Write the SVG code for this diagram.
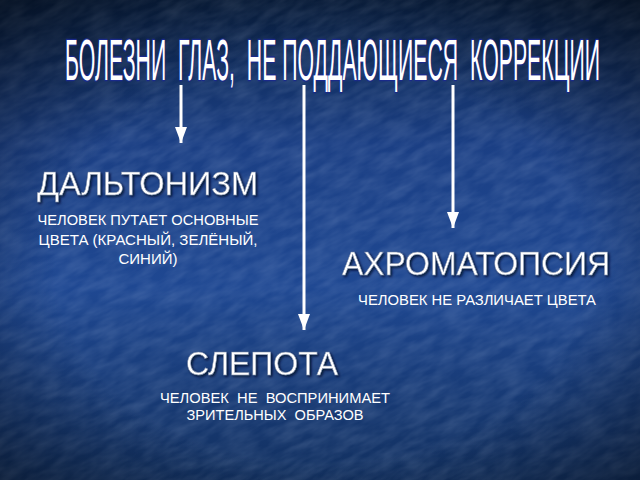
<svg xmlns="http://www.w3.org/2000/svg" width="640" height="480" viewBox="0 0 640 480">
<defs>
<linearGradient id="bg" x1="0" y1="0" x2="0" y2="1">
<stop offset="0" stop-color="#0a2246"/>
<stop offset="0.3" stop-color="#1b3f84"/>
<stop offset="0.6" stop-color="#1f4892"/>
<stop offset="1" stop-color="#12305f"/>
</linearGradient>
<radialGradient id="vig" cx="0.5" cy="0.55" r="0.75">
<stop offset="0.55" stop-color="#000" stop-opacity="0"/>
<stop offset="1" stop-color="#000" stop-opacity="0.5"/>
</radialGradient>
<filter id="tex" x="0" y="0" width="100%" height="100%">
<feTurbulence type="fractalNoise" baseFrequency="0.04 0.12" numOctaves="3" seed="4" result="n"/>
<feColorMatrix in="n" type="matrix" values="0 0 0 0 0.7  0 0 0 0 0.8  0 0 0 0 1  0 0 0 0.22 -0.06"/>
</filter>
<marker id="ah" viewBox="0 0 16 12" refX="16" refY="6" markerWidth="16" markerHeight="12" markerUnits="userSpaceOnUse" orient="auto">
<path d="M0,0 L16,6 L0,12 Z" fill="#ffffff"/>
</marker>
<filter id="sh" x="-10%" y="-30%" width="120%" height="160%">
<feDropShadow dx="1.5" dy="1.5" stdDeviation="1" flood-color="#050f25" flood-opacity="0.9"/>
</filter>
</defs>
<style>
.big{font-family:"Liberation Sans",Arial,sans-serif;fill:#ffffff;stroke:#7080a0;stroke-width:0.5;filter:url(#sh)}
.small{font-family:"Liberation Sans",Arial,sans-serif;fill:#ffffff;font-size:14.5px;text-anchor:middle}
.conn{stroke:#ffffff;stroke-width:3;fill:none}
</style>
<rect width="640" height="480" fill="url(#bg)"/>
<g transform="rotate(-25 320 240)"><rect x="-200" y="-200" width="1040" height="880" filter="url(#tex)"/></g>
<rect width="640" height="480" fill="url(#vig)"/>
<g id="title" transform="translate(65 80) scale(1 2.9)">
<text x="0" y="0" xml:space="preserve" style="white-space:pre" font-family="Liberation Sans,Arial,sans-serif" font-size="20" fill="#ffffff" stroke="#1a2a8a" stroke-width="2" vector-effect="non-scaling-stroke" paint-order="stroke" textLength="535" lengthAdjust="spacingAndGlyphs">БОЛЕЗНИ  ГЛАЗ,  НЕ ПОДДАЮЩИЕСЯ  КОРРЕКЦИИ</text>
</g>
<g id="connectors">
<line class="conn" x1="181" y1="85" x2="181" y2="143" marker-end="url(#ah)"/>
<line class="conn" x1="304" y1="85" x2="304" y2="330" marker-end="url(#ah)"/>
<line class="conn" x1="453" y1="85" x2="453" y2="228" marker-end="url(#ah)"/>
</g>
<g id="daltonism">
<text class="big" x="37" y="195" font-size="34" textLength="221" lengthAdjust="spacingAndGlyphs">ДАЛЬТОНИЗМ</text>
<text class="small" x="148" y="225" textLength="221" lengthAdjust="spacingAndGlyphs">ЧЕЛОВЕК ПУТАЕТ ОСНОВНЫЕ</text>
<text class="small" x="148" y="245" textLength="219" lengthAdjust="spacingAndGlyphs">ЦВЕТА (КРАСНЫЙ, ЗЕЛЁНЫЙ,</text>
<text class="small" x="148" y="264" textLength="59" lengthAdjust="spacingAndGlyphs">СИНИЙ)</text>
</g>
<g id="achromatopsia">
<text class="big" x="342" y="275" font-size="34" textLength="268" lengthAdjust="spacingAndGlyphs">АХРОМАТОПСИЯ</text>
<text class="small" x="477" y="305" textLength="238" lengthAdjust="spacingAndGlyphs">ЧЕЛОВЕК НЕ РАЗЛИЧАЕТ ЦВЕТА</text>
</g>
<g id="blindness">
<text class="big" x="186" y="375" font-size="34" textLength="152" lengthAdjust="spacingAndGlyphs">СЛЕПОТА</text>
<text class="small" x="275" y="403" xml:space="preserve" textLength="230" lengthAdjust="spacingAndGlyphs">ЧЕЛОВЕК  НЕ  ВОСПРИНИМАЕТ</text>
<text class="small" x="275" y="420" xml:space="preserve" textLength="177" lengthAdjust="spacingAndGlyphs">ЗРИТЕЛЬНЫХ  ОБРАЗОВ</text>
</g>
</svg>
